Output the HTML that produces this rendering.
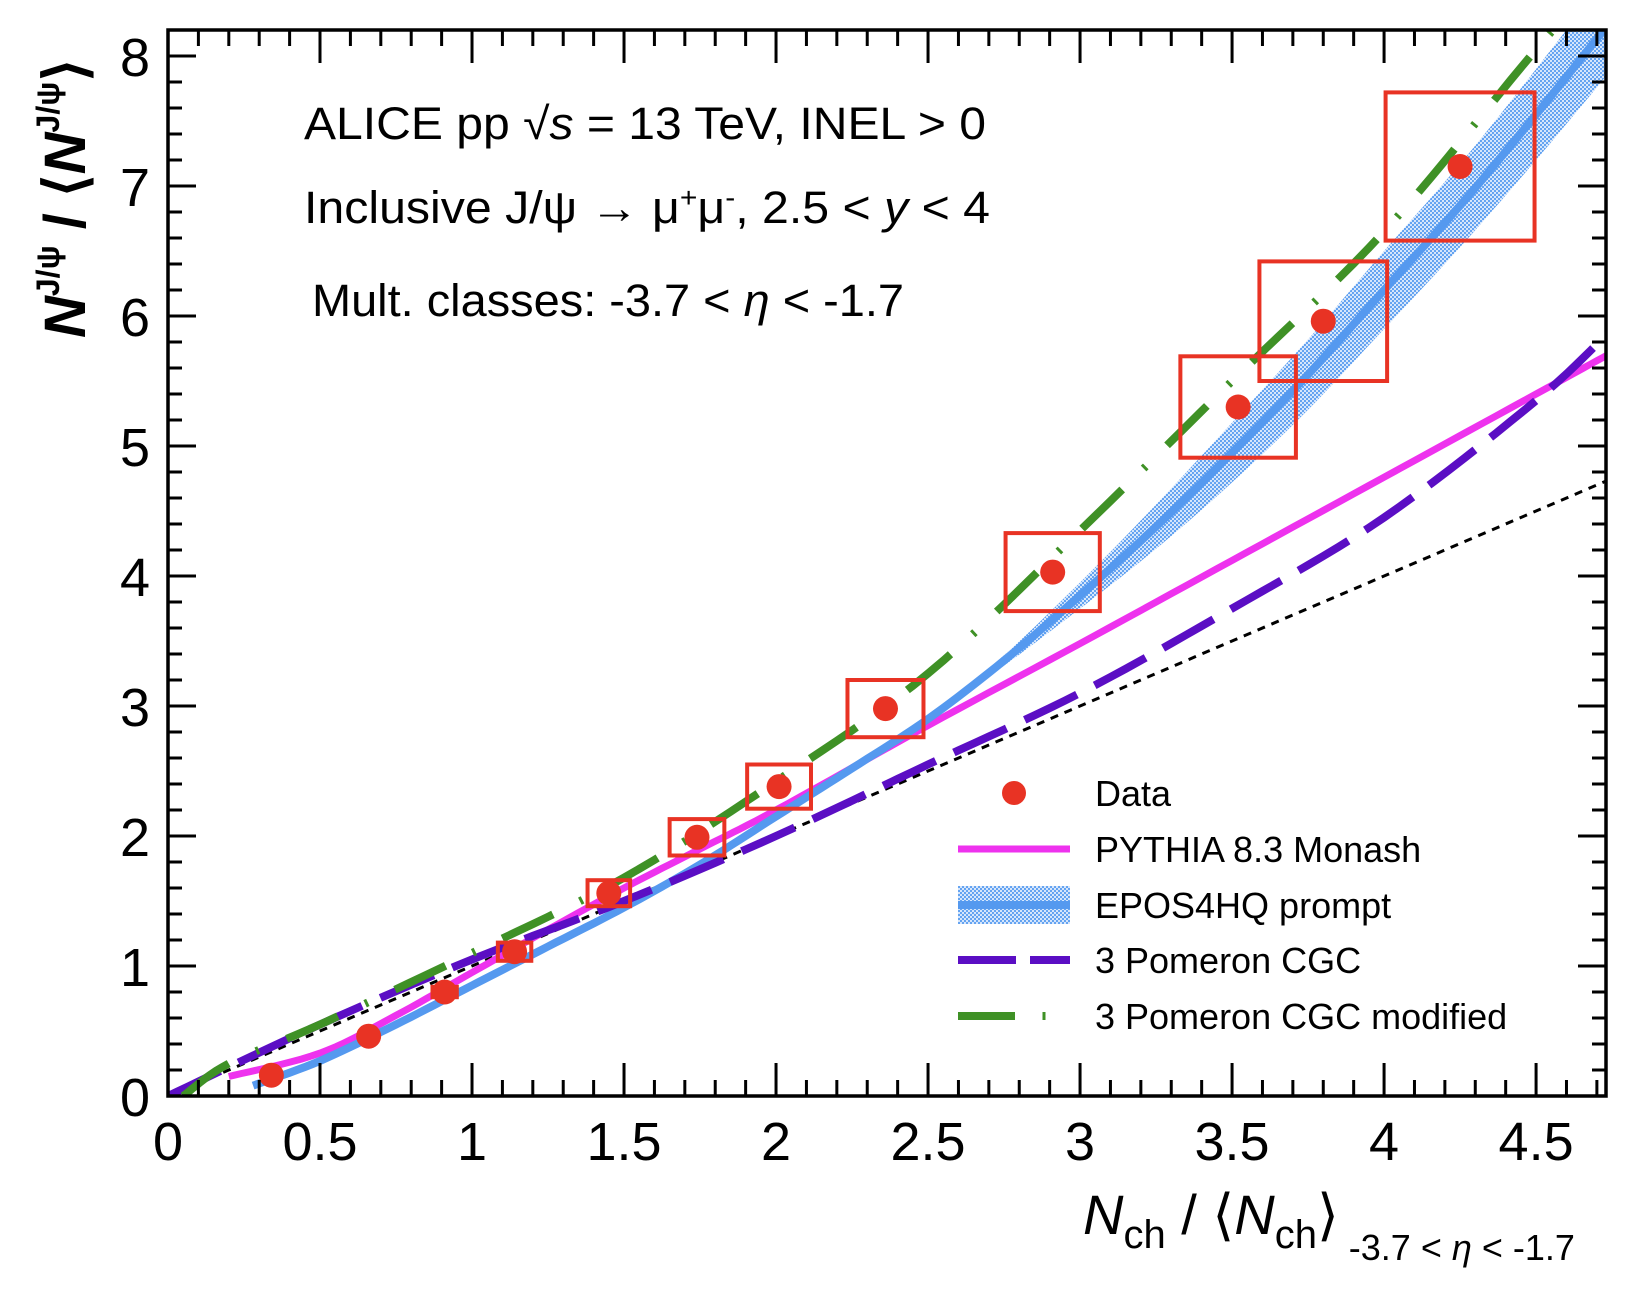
<!DOCTYPE html>
<html><head><meta charset="utf-8"><style>
html,body{margin:0;padding:0;background:#fff;}
svg{display:block;font-family:"Liberation Sans",sans-serif;}
</style></head><body>
<svg id="chart" width="1647" height="1291" viewBox="0 0 1647 1291" xmlns="http://www.w3.org/2000/svg">
<defs>
<pattern id="dots" width="4" height="4" patternUnits="userSpaceOnUse">
<rect width="4" height="4" fill="#d9e8fc"/>
<circle cx="1" cy="1" r="1.1" fill="#5a9df0"/>
<circle cx="3" cy="3" r="1.1" fill="#5a9df0"/>
</pattern>
<clipPath id="frameclip"><rect x="168" y="30" width="1438" height="1066"/></clipPath>
</defs>
<g id="plot" clip-path="url(#frameclip)"></g>
<g id="axes"></g>
<g id="texts">
<text x="304" y="139" font-size="45" textLength="682" lengthAdjust="spacingAndGlyphs">ALICE pp  √<tspan font-style="italic">s</tspan> = 13 TeV, INEL &gt; 0</text>
<text x="304" y="223" font-size="45" textLength="686" lengthAdjust="spacingAndGlyphs">Inclusive J/ψ  →  μ<tspan dy="-16" font-size="28">+</tspan><tspan dy="16">μ</tspan><tspan dy="-16" font-size="28">-</tspan><tspan dy="16">, 2.5 &lt; </tspan><tspan font-style="italic">y</tspan> &lt; 4</text>
<text x="312" y="316" font-size="45" textLength="592" lengthAdjust="spacingAndGlyphs">Mult. classes: -3.7 &lt; <tspan font-style="italic">η</tspan> &lt; -1.7</text>
<text x="1083" y="1234" font-size="56"><tspan font-style="italic">N</tspan><tspan font-size="40" dy="14">ch</tspan><tspan dy="-14"> / ⟨</tspan><tspan font-style="italic">N</tspan><tspan font-size="40" dy="14">ch</tspan><tspan dy="-14">⟩</tspan><tspan font-size="36" dy="26"> -3.7 &lt; </tspan><tspan font-size="36" font-style="italic">η</tspan><tspan font-size="36"> &lt; -1.7</tspan></text>
<text transform="translate(85,338) rotate(-90)" font-size="58" font-weight="bold"><tspan font-style="italic">N</tspan><tspan font-size="32" dy="-26">J/ψ</tspan><tspan dy="26"> / ⟨</tspan><tspan font-style="italic">N</tspan><tspan font-size="32" dy="-26">J/ψ</tspan><tspan dy="26">⟩</tspan></text>
</g>
<g id="legend">
<circle cx="1014" cy="793" r="12" fill="#e83324"/>
<text x="1095" y="806" font-size="36">Data</text>
<line x1="958" y1="849" x2="1070" y2="849" stroke="#ee32ee" stroke-width="7"/>
<text x="1095" y="862" font-size="36">PYTHIA 8.3 Monash</text>
<rect x="958" y="886" width="112" height="38" fill="url(#dots)"/>
<line x1="958" y1="905" x2="1070" y2="905" stroke="#5599ef" stroke-width="8"/>
<text x="1095" y="918" font-size="36">EPOS4HQ prompt</text>
<line x1="958" y1="960" x2="1070" y2="960" stroke="#5b0ec4" stroke-width="8" stroke-dasharray="58,14"/>
<text x="1095" y="973" font-size="36">3 Pomeron CGC</text>
<line x1="958" y1="1016" x2="1015" y2="1016" stroke="#3f9126" stroke-width="8"/>
<line x1="1044" y1="1012" x2="1044" y2="1020" stroke="#3f9126" stroke-width="3"/>
<text x="1095" y="1029" font-size="36">3 Pomeron CGC modified</text>
</g>
</svg>
<script>
// ---- data ----
const dataX = [0.34,0.66,0.91,1.14,1.45,1.74,2.01,2.36,2.91,3.52,3.80,4.25];
const dataY = [0.16,0.46,0.80,1.11,1.56,1.99,2.38,2.98,4.03,5.30,5.96,7.15];
const sysHalfX = [0.02,0.02,0.04,0.055,0.07,0.09,0.105,0.125,0.155,0.19,0.21,0.245];
const sysHalfY = [0.02,0.03,0.04,0.07,0.10,0.14,0.17,0.22,0.30,0.39,0.46,0.57];
const pythiaX = [0.2,0.5,0.75,1.0,1.25,1.5,1.75,2.0,2.5,3.0,3.5,4.0,4.5,4.75];
const pythiaY = [0.15,0.33,0.62,0.95,1.28,1.6,1.9,2.2,2.85,3.48,4.12,4.76,5.4,5.72];
const eposX = [0.28,0.5,0.75,1.0,1.25,1.5,1.75,2.0,2.25,2.5,2.75,3.0,3.25,3.5,3.75,4.0,4.25,4.5,4.75];
const eposY = [0.08,0.27,0.55,0.85,1.15,1.45,1.78,2.15,2.52,2.9,3.35,3.85,4.38,4.95,5.55,6.2,6.85,7.55,8.28];
const eposErr = [0,0,0,0,0,0,0,0,0,0,0.04,0.1,0.17,0.23,0.27,0.3,0.32,0.35,0.38];
const cgcX = [0,0.5,1.0,1.5,2.0,2.5,3.0,3.5,4.0,4.5,4.75];
const cgcY = [0,0.55,1.05,1.5,2.0,2.55,3.1,3.75,4.45,5.35,5.9];
const cgcModX = [0.05,0.2,0.5,1.0,1.5,2.0,2.5,3.0,3.5,4.0,4.5,4.75];
const cgcModY = [0,0.25,0.55,1.1,1.68,2.42,3.25,4.35,5.5,6.65,8.05,8.7];
const refX = [0,4.75];
const refY = [0,4.75];
const xTicks = [0,0.5,1,1.5,2,2.5,3,3.5,4,4.5];
const xTickLabels = ["0","0.5","1","1.5","2","2.5","3","3.5","4","4.5"];
const yTicks = [0,1,2,3,4,5,6,7,8];
const yTickLabels = ["0","1","2","3","4","5","6","7","8"];

const X0=168,X1=1606,Y0=1096,Y1=30, xmin=0,xmax=4.73,ymin=0,ymax=8.2;
function sx(v){return X0+(v-xmin)/(xmax-xmin)*(X1-X0);}
function sy(v){return Y0-(v-ymin)/(ymax-ymin)*(Y0-Y1);}
const NS="http://www.w3.org/2000/svg";
function mk(tag,attrs,parent){const e=document.createElementNS(NS,tag);for(const k in attrs)e.setAttribute(k,attrs[k]);parent.appendChild(e);return e;}
const plot=document.getElementById('plot'), axes=document.getElementById('axes');
function smoothPts(xs,ys){
  const P=xs.map((x,i)=>[sx(x),sy(ys[i])]);
  let out=[P[0]];
  for(let i=0;i<P.length-1;i++){
    const p0=P[Math.max(0,i-1)],p1=P[i],p2=P[i+1],p3=P[Math.min(P.length-1,i+2)];
    for(let s=1;s<=10;s++){const t=s/10,t2=t*t,t3=t2*t;
      const f=(a,b,c,d)=>0.5*((2*b)+(-a+c)*t+(2*a-5*b+4*c-d)*t2+(-a+3*b-3*c+d)*t3);
      out.push([f(p0[0],p1[0],p2[0],p3[0]),f(p0[1],p1[1],p2[1],p3[1])]);}
  }
  return out;
}
function pathD(xs,ys){return smoothPts(xs,ys).map((p,i)=>(i?'L':'M')+p[0].toFixed(1)+','+p[1].toFixed(1)).join(' ');}

// EPOS band
const upY=eposY.map((y,i)=>y+eposErr[i]), loY=eposY.map((y,i)=>y-eposErr[i]);
const up=smoothPts(eposX,upY), lo=smoothPts(eposX,loY).reverse();
let bd=up.concat(lo).map((p,i)=>(i?'L':'M')+p[0].toFixed(1)+','+p[1].toFixed(1)).join(' ')+'Z';
const band=mk('path',{d:bd,fill:'url(#dots)'},plot);



const ref=mk('path',{d:pathD(refX,refY),fill:'none',stroke:'#000','stroke-width':3,'stroke-dasharray':'8,7'},plot);



const pyl=mk('path',{d:pathD(pythiaX,pythiaY),fill:'none',stroke:'#ee32ee','stroke-width':7},plot);



const epl=mk('path',{d:pathD(eposX,eposY),fill:'none',stroke:'#5599ef','stroke-width':8},plot);



const cgl=mk('path',{d:pathD(cgcX,cgcY),fill:'none',stroke:'#5b0ec4','stroke-width':8,'stroke-dasharray':'58,20'},plot);



const cml=mk('path',{d:pathD(cgcModX,cgcModY),fill:'none',stroke:'#3f9126','stroke-width':8,'stroke-dasharray':'56,30,3,30'},plot);



dataX.forEach((x,i)=>{
  const r=mk('rect',{x:sx(x-sysHalfX[i]),y:sy(dataY[i]+sysHalfY[i]),width:sx(x+sysHalfX[i])-sx(x-sysHalfX[i]),height:sy(dataY[i]-sysHalfY[i])-sy(dataY[i]+sysHalfY[i]),fill:'none',stroke:'#e83324','stroke-width':4},plot);
  
  
});
dataX.forEach((x,i)=>{
  const c=mk('circle',{cx:sx(x),cy:sy(dataY[i]),r:12.5,fill:'#e83324'},plot);
  
  
});

// frame
const fr=mk('rect',{x:X0,y:Y1,width:X1-X0,height:Y0-Y1,fill:'none',stroke:'#000','stroke-width':3.5},axes);


for(let k=0;k<=47;k++){
  const v=k/10, major=(k%5===0), L=major?33:16, px=sx(v);
  const t1=mk('line',{x1:px,y1:Y0,x2:px,y2:Y0-L,stroke:'#000','stroke-width':3},axes);
  
  
  const t2=mk('line',{x1:px,y1:Y1,x2:px,y2:Y1+L,stroke:'#000','stroke-width':3},axes);
  
  
}
xTicks.forEach((v,i)=>{
  const t=mk('text',{x:sx(v),y:1160,'font-size':54,'text-anchor':'middle'},axes);
  t.textContent=xTickLabels[i];
  
  
});
for(let k=0;k<=41;k++){
  const v=k/5, major=(k%5===0), L=major?28:14, py=sy(v);
  const t1=mk('line',{x1:X0,y1:py,x2:X0+L,y2:py,stroke:'#000','stroke-width':3},axes);
  
  
  const t2=mk('line',{x1:X1,y1:py,x2:X1-L,y2:py,stroke:'#000','stroke-width':3},axes);
  
  
}
yTicks.forEach((v,i)=>{
  const t=mk('text',{x:150,y:sy(v)+20,'font-size':54,'text-anchor':'end'},axes);
  t.textContent=yTickLabels[i];
  
  
});
</script>
</body></html>
